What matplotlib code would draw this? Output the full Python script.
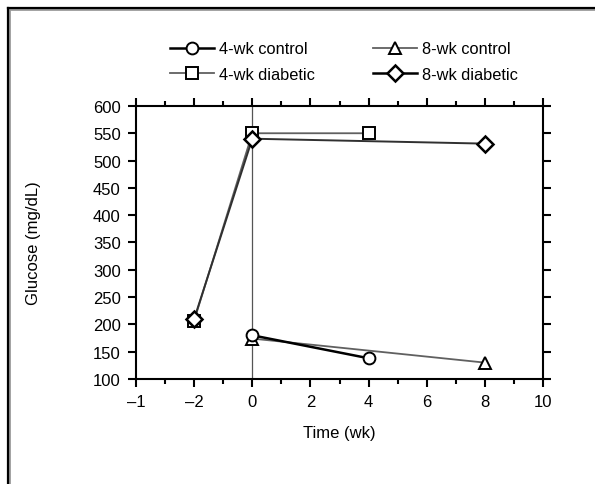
import numpy as np
import matplotlib.pyplot as plt
from matplotlib.lines import Line2D
from matplotlib.ticker import MultipleLocator

plt.rcParams['font.family'] = ['Liberation Sans', 'DejaVu Sans']

# data
ctrl4_x = [0, 4]
ctrl4_y = [180, 138]
diab4_x = [-2, 0, 4]
diab4_y = [207, 550, 550]
ctrl8_x = [0, 8]
ctrl8_y = [174, 130]
diab8_x = [-2, 0, 8]
diab8_y = [210, 540, 531]

xticks = [-4, -2, 0, 2, 4, 6, 8, 10]
xticklabels = ['–1', '–2', '0', '2', '4', '6', '8', '10']
yticks = np.arange(100, 601, 50)

fig = plt.figure(figsize=(5.95, 4.85), dpi=100)
ax = fig.add_axes([0.2286, 0.2165, 0.684, 0.563])

ax.axvline(0, color='#555555', lw=0.9, zorder=1)

mk = dict(mfc='white', mec='black', mew=1.4, ms=8.5)
ax.plot(diab4_x, diab4_y, color='#606060', lw=1.3, marker='s', zorder=3, **mk)
ax.plot(ctrl8_x, ctrl8_y, color='#606060', lw=1.3, marker='^', zorder=3, **mk)
ax.plot(ctrl4_x, ctrl4_y, color='black', lw=1.8, marker='o', zorder=4, **mk)
ax.plot(diab8_x, diab8_y, color='#303030', lw=1.4, marker='D', zorder=4,
        mfc='white', mec='black', mew=1.8, ms=8)

ax.set_xlim(-4, 10)
ax.set_ylim(100, 600)
ax.set_xticks(xticks)
ax.set_xticklabels(xticklabels)
ax.xaxis.set_minor_locator(MultipleLocator(1))
ax.set_yticks(yticks)

ax.tick_params(which='both', direction='out', top=True, right=True,
               labelsize=12, width=1.5, colors='black', pad=5)
ax.tick_params(which='major', length=6)
ax.tick_params(which='minor', length=3.5)
for s in ax.spines.values():
    s.set_linewidth(1.5)

ax.set_xlabel('Time (wk)', fontsize=12, labelpad=11)
ax.set_ylabel('Glucose (mg/dL)', fontsize=12, labelpad=37)

handles = [
    Line2D([], [], color='black', lw=1.8, marker='o', **mk),
    Line2D([], [], color='#606060', lw=1.3, marker='s', **mk),
    Line2D([], [], color='#606060', lw=1.3, marker='^', **mk),
    Line2D([], [], color='black', lw=1.8, marker='D', mfc='white', mec='black', mew=1.8, ms=8),
]
labels = ['4-wk control', '4-wk diabetic', '8-wk control', '8-wk diabetic']
fig.legend(handles, labels, ncol=2, loc='upper center', bbox_to_anchor=(0.578, 0.943),
           frameon=False, fontsize=11.8, handlelength=2.7, handletextpad=0.3,
           columnspacing=3.5, labelspacing=0.65)

# frame on the top and left of the picture
fig.add_artist(Line2D([9/595, 1], [1 - 10/485] * 2, color='#999999', lw=2, transform=fig.transFigure))
fig.add_artist(Line2D([9/595] * 2, [0, 1 - 10/485], color='#999999', lw=2, transform=fig.transFigure))
fig.add_artist(Line2D([8/595, 1], [1 - 9/485] * 2, color='black', lw=1.6, transform=fig.transFigure))
fig.add_artist(Line2D([8/595] * 2, [0, 1 - 9/485], color='black', lw=1.6, transform=fig.transFigure))

fig.savefig('out.png', dpi=100)
